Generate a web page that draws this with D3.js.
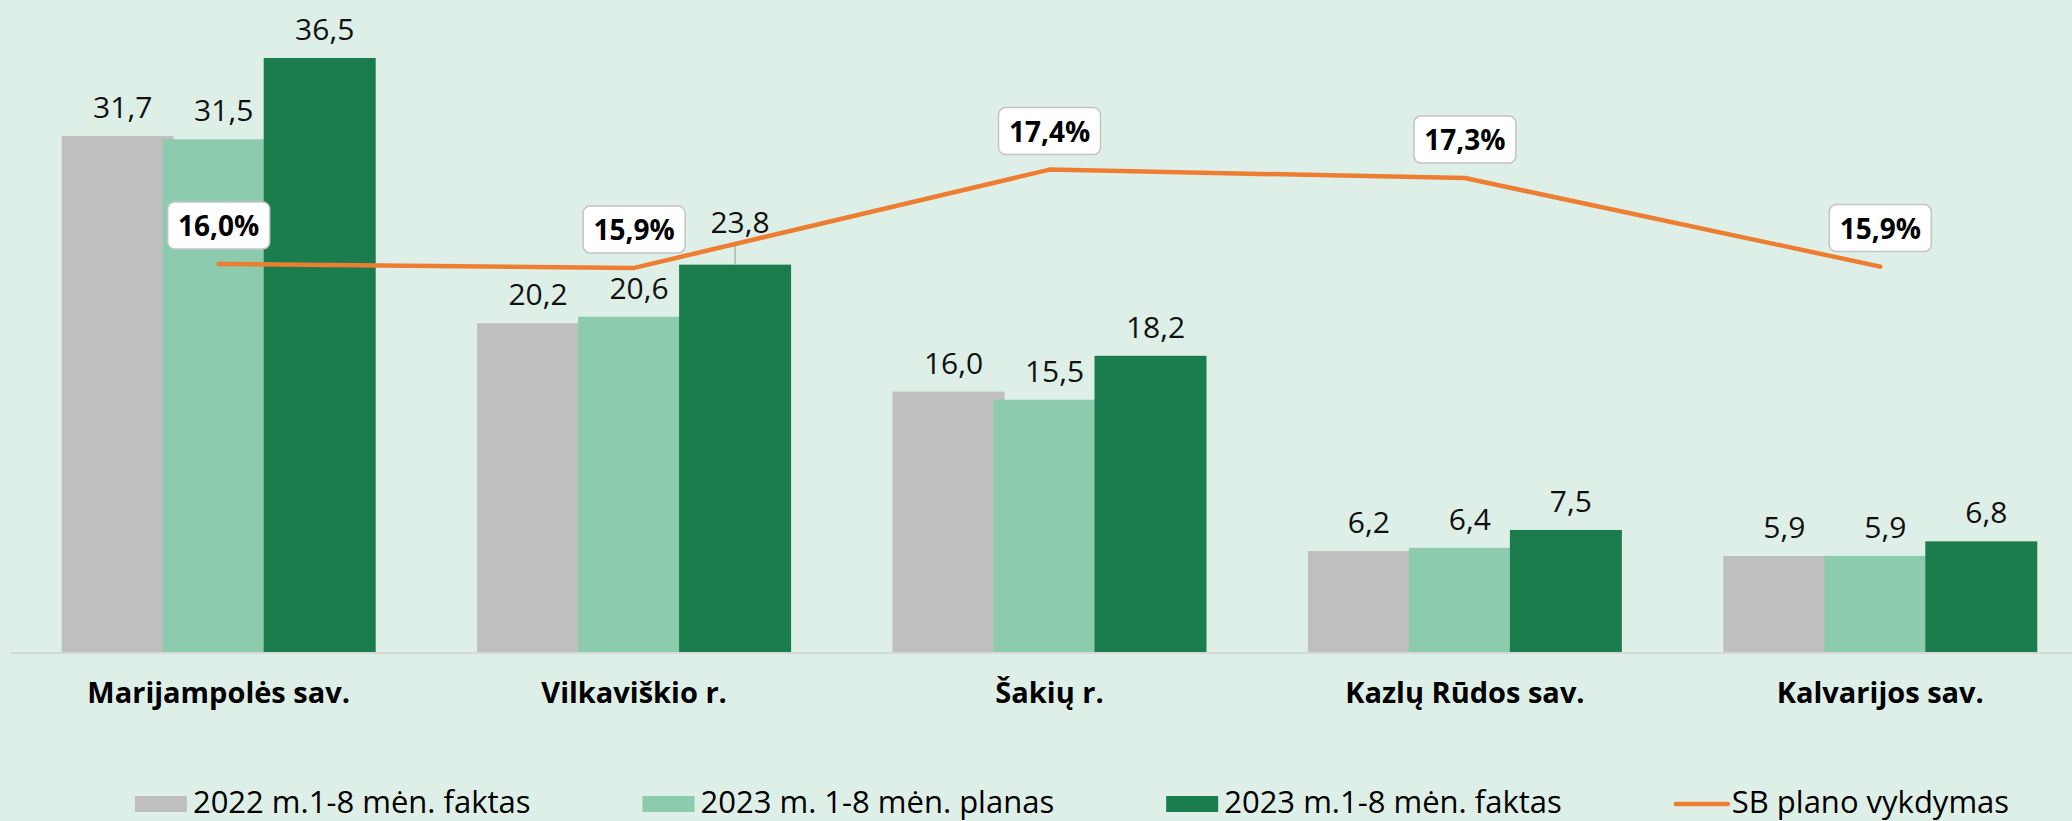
<!DOCTYPE html>
<html>
<head>
<meta charset="utf-8">
<script src="https://cdn.jsdelivr.net/npm/d3@7"></script>
<style>
  html, body { margin: 0; padding: 0; background: #deefe8; }
  svg { display: block; }
</style>
</head>
<body>
<svg id="chart"></svg>
<script>
// ── Data ──
const categories = ['Marijampolės sav.', 'Vilkaviškio r.', 'Šakių r.', 'Kazlų Rūdos sav.', 'Kalvarijos sav.'];
const seriesNames = ['2022 m.1-8 mėn. faktas', '2023 m. 1-8 mėn. planas', '2023 m.1-8 mėn. faktas'];
const fact2022 = [31.7, 20.2, 16.0, 6.2, 5.9];
const plan2023 = [31.5, 20.6, 15.5, 6.4, 5.9];
const fact2023 = [36.5, 23.8, 18.2, 7.5, 6.8];
const lineName = 'SB plano vykdymas';
const planExecution = [15.96, 15.90, 17.41, 17.28, 15.92];

// ── Styles ──
const W = 2072, H = 821;
const colors = ['#bfbfbf', '#8ccbad', '#1b7d4d'];
const lineColor = '#ed7d31';
const FONT = '"Open Sans", "Noto Sans", sans-serif';

const svg = d3.select('#chart').attr('width', W).attr('height', H);
svg.append('rect').attr('width', W).attr('height', H).attr('fill', '#deefe8');

const plot = { left: 11, right: 2088, top: 1, bottom: 652 };

const x0 = d3.scaleBand().domain(categories).range([plot.left, plot.right]);
const x1 = d3.scalePoint().domain(seriesNames).range([0, 202]);
const barW = 112;
const groupW = 202 + barW;
const y = d3.scaleLinear().domain([0, 40]).range([plot.bottom, plot.top]);
const y2 = d3.scaleLinear().domain([10, 20]).range([plot.bottom, plot.top]);

const fmt = v => d3.format('.1f')(v).replace('.', ',');
const cx = c => x0(c) + x0.bandwidth() / 2;

const seriesData = [fact2022, plan2023, fact2023];

// ── Axis line ──
svg.append('line')
  .attr('x1', plot.left).attr('x2', W)
  .attr('y1', plot.bottom + 1).attr('y2', plot.bottom + 1)
  .attr('stroke', '#d4d8d6').attr('stroke-width', 2);

// ── Bars ──
const bars = svg.append('g');
seriesNames.forEach((s, si) => {
  bars.selectAll(null).data(categories).enter().append('rect')
    .attr('x', c => cx(c) - groupW / 2 + x1(s))
    .attr('y', (c, i) => y(seriesData[si][i]))
    .attr('width', barW)
    .attr('height', (c, i) => y(0) - y(seriesData[si][i]))
    .attr('fill', colors[si]);
});

// ── Line ──
const linePts = categories.map((c, i) => [cx(c), y2(planExecution[i])]);
const lineY = xx => {
  for (let i = 0; i < linePts.length - 1; i++) {
    const a = linePts[i], b = linePts[i + 1];
    if (xx >= a[0] && xx <= b[0]) return a[1] + (b[1] - a[1]) * (xx - a[0]) / (b[0] - a[0]);
  }
  return null;
};

// ── Bar labels (moved above the line when they collide, with a leader) ──
const labels = svg.append('g');
seriesNames.forEach((s, si) => {
  categories.forEach((c, i) => {
    const v = seriesData[si][i];
    const lx = cx(c) - groupW / 2 + x1(s) + barW / 2 + 5;
    let base = y(v) - 18;
    const ly = lineY(lx);
    if (ly !== null && ly > base - 26 && ly < base + 8) {
      base = ly - 10;
      labels.append('line')
        .attr('x1', lx - 5).attr('x2', lx - 5)
        .attr('y1', y(v)).attr('y2', base + 10)
        .attr('stroke', '#a6a6a6').attr('stroke-width', 1.2);
    }
    labels.append('text')
      .attr('x', lx).attr('y', base)
      .attr('text-anchor', 'middle')
      .attr('font-family', FONT).attr('font-size', 30)
      .attr('fill', '#111')
      .text(fmt(v));
  });
});

svg.append('path')
  .datum(linePts)
  .attr('d', d3.line())
  .attr('fill', 'none')
  .attr('stroke', lineColor)
  .attr('stroke-width', 4.5)
  .attr('stroke-linecap', 'round')
  .attr('stroke-linejoin', 'round');

// ── Line labels (boxed) ──
const boxes = svg.append('g');
linePts.forEach((p, i) => {
  const g = boxes.append('g').attr('transform', `translate(${p[0]},${p[1] - 15})`);
  g.append('rect')
    .attr('x', -51).attr('y', -47).attr('width', 102).attr('height', 47)
    .attr('rx', 7).attr('fill', '#fff')
    .attr('stroke', '#c4c4c4').attr('stroke-width', 1.5);
  g.append('text')
    .attr('x', 0).attr('y', -13)
    .attr('text-anchor', 'middle')
    .attr('font-family', FONT).attr('font-size', 28).attr('font-weight', 700)
    .attr('fill', '#000')
    .text(fmt(planExecution[i]) + '%');
});

// ── X labels ──
svg.append('g').selectAll('text').data(categories).enter().append('text')
  .attr('x', cx)
  .attr('y', 703)
  .attr('text-anchor', 'middle')
  .attr('font-family', FONT).attr('font-size', 29).attr('font-weight', 700)
  .attr('fill', '#000')
  .text(d => d);

// ── Legend ──
const lg = svg.append('g');
const items = seriesNames.map((s, i) => ({ label: s, color: colors[i], type: 'bar' }))
  .concat([{ label: lineName, color: lineColor, type: 'line' }]);
let lxPos = 0;
items.forEach(it => {
  const g = lg.append('g').attr('transform', `translate(${lxPos},0)`);
  if (it.type === 'bar') {
    g.append('rect').attr('x', 0).attr('y', 796).attr('width', 52).attr('height', 16).attr('fill', it.color);
  } else {
    g.append('line').attr('x1', 2).attr('x2', 54).attr('y1', 804).attr('y2', 804)
      .attr('stroke', it.color).attr('stroke-width', 4.5).attr('stroke-linecap', 'round');
  }
  const t = g.append('text')
    .attr('x', 58).attr('y', 813)
    .attr('font-family', FONT).attr('font-size', 31)
    .attr('fill', '#000')
    .text(it.label);
  lxPos += 58 + t.node().getComputedTextLength() + 112;
});
const totalW = lxPos - 112;
lg.attr('transform', `translate(${1072 - totalW / 2},0)`);
</script>
</body>
</html>
